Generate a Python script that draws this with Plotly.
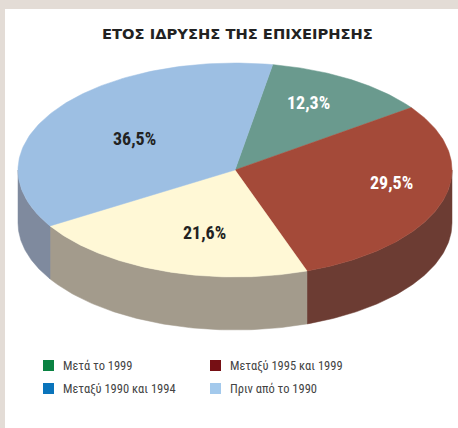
import numpy as np
import plotly.graph_objects as go

# ---- data ----
slice_labels = ["Μετά το 1999", "Μεταξύ 1995 και 1999", "Μεταξύ 1990 και 1994", "Πριν από το 1990"]
slice_values = [12.3, 29.5, 21.6, 36.5]
slice_text = ["12,3%", "29,5%", "21,6%", "36,5%"]

legend_labels = ["Μετά το 1999", "Μεταξύ 1995 και 1999", "Μεταξύ 1990 και 1994", "Πριν από το 1990"]
legend_colors = ["#0a8242", "#760f14", "#0a74bb", "#a3c9ec"]

title_text = "ΕΤΟΣ ΙΔΡΥΣΗΣ ΤΗΣ ΕΠΙΧΕΙΡΗΣΗΣ"

# ---- styles ----
top_colors = ["#6a9a8e", "#a44a39", "#fff8d6", "#9dbfe3"]
side_colors = ["#4e7268", "#6c3c33", "#a39b8c", "#7f8a9e"]
label_colors = ["white", "white", "#222222", "#222222"]
label_r = [0.72, 0.73, 0.60, 0.55]
label_shift = [4, 8, 6, 2]  # degrees added to mid-angle

W, H = 458, 428
cx, cy, rx, ry, depth = 235, 170, 217, 107, 53
start_deg = 80.0
narrow = "Liberation Sans Narrow, Roboto Condensed, Arial Narrow, sans-serif"

fig = go.Figure()

total = sum(slice_values)
bounds = [start_deg]
for v in slice_values:
    bounds.append(bounds[-1] - 360.0 * v / total)


def pt(tdeg, dy=0.0):
    t = np.radians(tdeg)
    return cx + rx * np.cos(t), cy - ry * np.sin(t) + dy


# side walls (front half only)
for i in range(len(slice_values)):
    hi, lo = bounds[i], bounds[i + 1]
    for k in range(-2, 3):
        f_lo, f_hi = -180 + 360 * k, 0 + 360 * k
        a, b = max(lo, f_lo), min(hi, f_hi)
        if b - a <= 0.01:
            continue
        ts = np.linspace(a, b, 80)
        xs_top, ys_top = pt(ts)
        xs_bot, ys_bot = pt(ts[::-1], depth)
        xs = np.concatenate([xs_top, xs_bot, xs_top[:1]])
        ys = np.concatenate([ys_top, ys_bot, ys_top[:1]])
        fig.add_trace(go.Scatter(x=xs, y=ys, mode="lines", fill="toself",
                                 fillcolor=side_colors[i],
                                 line=dict(color=side_colors[i], width=0.5),
                                 hoverinfo="skip", showlegend=False))

# top faces
for i in range(len(slice_values)):
    hi, lo = bounds[i], bounds[i + 1]
    ts = np.linspace(hi, lo, 120)
    xa, ya = pt(ts)
    xs = np.concatenate([[cx], xa, [cx]])
    ys = np.concatenate([[cy], ya, [cy]])
    fig.add_trace(go.Scatter(x=xs, y=ys, mode="lines", fill="toself",
                             fillcolor=top_colors[i],
                             line=dict(color=top_colors[i], width=0.5),
                             name=slice_labels[i],
                             hoverinfo="skip", showlegend=False))

# slice labels
for i in range(len(slice_values)):
    mid = (bounds[i] + bounds[i + 1]) / 2 + label_shift[i]
    t = np.radians(mid)
    lx = cx + label_r[i] * rx * np.cos(t)
    ly = cy - label_r[i] * ry * np.sin(t)
    fig.add_annotation(x=lx, y=ly, text="<b>" + slice_text[i] + "</b>", showarrow=False,
                       font=dict(family=narrow, size=18, color=label_colors[i]),
                       xanchor="center", yanchor="middle")

# legend (manual, 2 columns)
leg_x0, leg_dx, leg_y0, leg_dy = 48.5, 167, 365.5, 23
lx = [leg_x0 + (i % 2) * leg_dx for i in range(len(legend_labels))]
ly = [leg_y0 + (i // 2) * leg_dy for i in range(len(legend_labels))]
fig.add_trace(go.Scatter(x=lx, y=ly, mode="markers",
                         marker=dict(symbol="square", size=11, color=legend_colors,
                                     line=dict(width=0)),
                         hoverinfo="skip", showlegend=False))
for i, lab in enumerate(legend_labels):
    fig.add_annotation(x=lx[i] + 12, y=ly[i], text=lab, showarrow=False,
                       xanchor="left", yanchor="middle",
                       font=dict(family=narrow, size=12.5, color="#444444"))

# title
fig.add_annotation(x=237, y=33, text="<b>" + title_text + "</b>", showarrow=False,
                   xanchor="center", yanchor="middle",
                   font=dict(family="DejaVu Sans, sans-serif", size=14.7, color="#222222"))

fig.update_layout(
    width=W, height=H,
    margin=dict(l=0, r=0, t=0, b=0),
    paper_bgcolor="#e3dcd6",
    plot_bgcolor="rgba(0,0,0,0)",
    xaxis=dict(range=[0, W], visible=False, fixedrange=True),
    yaxis=dict(range=[H, 0], visible=False, fixedrange=True),
    shapes=[dict(type="rect", xref="x", yref="y", x0=5, y0=9, x1=W, y1=H,
                 fillcolor="white", line=dict(width=0), layer="below")],
)

fig.write_html("out.html", config={"displayModeBar": False},
               post_script="document.body.style.margin='0px';")
